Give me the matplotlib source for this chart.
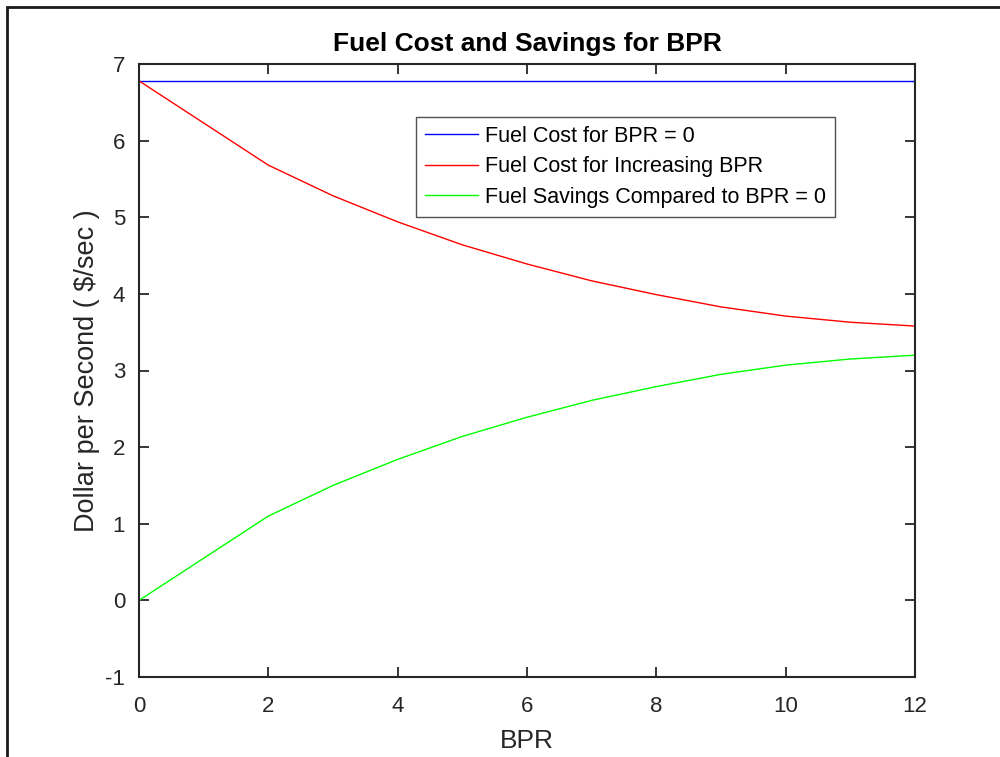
import matplotlib
matplotlib.use("Agg")
import matplotlib.pyplot as plt
from matplotlib.patches import Rectangle

plt.rcParams['font.family'] = ['Liberation Sans', 'DejaVu Sans']
plt.rcParams['axes.unicode_minus'] = False

bpr = [0, 2, 3, 4, 5, 6, 7, 8, 9, 10, 11, 12]
base_cost = [6.78] * len(bpr)
cost_increasing = [6.78, 5.68, 5.28, 4.94, 4.64, 4.39, 4.17, 3.99, 3.83, 3.71, 3.63, 3.58]
savings = [0.0, 1.10, 1.50, 1.84, 2.14, 2.39, 2.61, 2.79, 2.95, 3.07, 3.15, 3.20]
x_ticks = [0, 2, 4, 6, 8, 10, 12]
y_ticks = [-1, 0, 1, 2, 3, 4, 5, 6, 7]

fig = plt.figure(figsize=(10, 7.57), dpi=100)
ax = fig.add_axes([0.139, 1 - 677 / 757, 0.776, (677 - 64) / 757])

ax.plot(bpr, base_cost, color='#0000ff', lw=1, label='Fuel Cost for BPR = 0')
ax.plot(bpr, cost_increasing, color='#ff0000', lw=1, label='Fuel Cost for Increasing BPR')
ax.plot(bpr, savings, color='#00ff00', lw=1, label='Fuel Savings Compared to BPR = 0')

ax.set_xlim(0, 12)
ax.set_ylim(-1, 7)
ax.set_xticks(x_ticks)
ax.set_yticks(y_ticks)
ax.tick_params(direction='in', length=7, width=1.3, labelsize=16, colors='#262626',
               top=True, right=True)
ax.tick_params(axis='x', pad=14)
ax.tick_params(axis='y', pad=10)
for s in ax.spines.values():
    s.set_linewidth(1.5)
    s.set_color('#262626')

ax.set_xlabel('BPR', fontsize=19, color='#262626', labelpad=8)
ax.set_ylabel('Dollar per Second ( \\$/sec )', fontsize=19.5, color='#262626', labelpad=4)
ax.set_title('Fuel Cost and Savings for BPR', fontsize=19, fontweight='bold', pad=9)

leg = ax.legend(loc='upper left', bbox_to_anchor=((416 - 139) / 776, (677 - 117) / 613),
                fontsize=15.5, frameon=True, fancybox=False, borderaxespad=0,
                handlelength=2.5, handletextpad=0.3, labelspacing=0.45,
                borderpad=0.4)
leg.get_frame().set_edgecolor('#262626')
leg.get_frame().set_linewidth(1.0)

fig.patches.append(Rectangle((7 / 1000, -0.1), 1.2, 1 - 7 / 757 + 0.1,
                             transform=fig.transFigure, fill=False,
                             edgecolor='#1a1a1a', lw=2.0))

fig.savefig('out.png', dpi=100)
